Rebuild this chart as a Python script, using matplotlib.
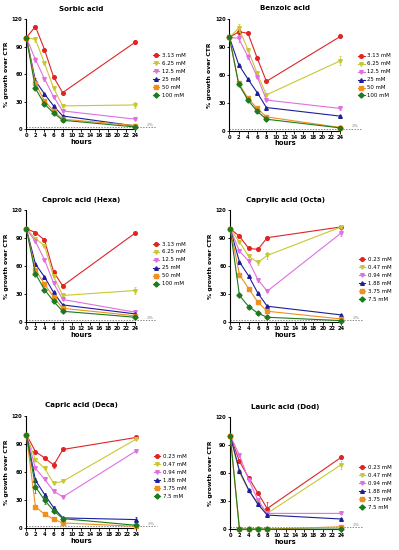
import matplotlib
matplotlib.use("Agg")
import matplotlib.pyplot as plt

hours = [0, 2, 4, 6, 8, 24]

# concentrations
conc_short = ["3.13 mM", "6.25 mM", "12.5 mM", "25 mM", "50 mM", "100 mM"]
conc_long = ["0.23 mM", "0.47 mM", "0.94 mM", "1.88 mM", "3.75 mM", "7.5 mM"]

# % growth over CTR, one list per concentration (low -> high)
sorbic = [
    [100, 112, 87, 57, 40, 95],
    [100, 98, 72, 45, 25.5, 26.5],
    [100, 76, 55, 35.5, 20, 11],
    [100, 53, 38.5, 25.5, 14.5, 3.6],
    [100, 50, 31, 20, 11, 4],
    [100, 44.5, 27.5, 17.8, 9.8, 2.5],
]
benzoic = [
    [100, 106, 104.5, 78, 53, 101],
    [100, 110, 87, 61.5, 38.5, 75],
    [100, 99, 79.5, 58, 33, 24],
    [100, 71, 55.5, 41, 25, 15.8],
    [100, 51, 35, 24, 15, 3.6],
    [100, 50, 33, 21, 12.5, 3.2],
]
caproic = [
    [100, 96, 88, 54, 39, 95.5],
    [100, 89.5, 82, 49, 28.7, 34],
    [100, 86.5, 67, 42, 24.4, 10.8],
    [100, 62.5, 48.5, 32, 18.6, 9],
    [100, 56, 41, 27, 15, 7],
    [100, 52, 35, 22.5, 11.8, 5.4],
]
caprylic = [
    [100, 92, 79, 78, 90.5, 102],
    [100, 86, 70.5, 64, 71.5, 102],
    [100, 76, 65.5, 45.5, 33.3, 95.5],
    [100, 64.5, 49.5, 31, 17.2, 7.9],
    [100, 51, 35.8, 21.5, 11.8, 3.6],
    [100, 28.7, 16.8, 9.7, 5.4, 1.8],
]
capric = [
    [100, 81.7, 75, 67.4, 84, 96.8],
    [100, 72.8, 63.8, 47.7, 50, 95],
    [100, 63.8, 52, 39.4, 33.3, 82.4],
    [100, 51, 35.8, 21.5, 10.8, 9],
    [100, 22.6, 14.7, 9.3, 5.4, 1.8],
    [100, 44, 29.7, 18.3, 10, 2.9],
]
lauric = [
    [100, 72.4, 55, 38.4, 22, 76.7],
    [100, 60.6, 40.9, 28.3, 16.8, 68.8],
    [100, 78.9, 52.7, 31, 16.8, 16.8],
    [100, 62.4, 42, 26.5, 15, 10.8],
    [100, 0, 0, 0, 0, 2.5],
    [100, 0, 0, 0, 0, 0],
]

# standard errors (only visibly large ones, rest small)
sorbic_err = [[0, 2, 1, 1, 1, 2.5], [0, 3, 1, 1, 1, 3], [0, 3, 2, 1, 1, 1],
              [0, 3, 1, 1, 1, 1], [0, 2, 1, 1, 1, 1], [0, 1, 1, 1, 1, 1]]
benzoic_err = [[0, 3, 1, 1, 1, 1], [0, 4, 2, 2, 1, 5], [0, 4, 3, 1, 1, 2],
               [0, 1, 1, 1, 1, 1], [0, 1, 1, 1, 1, 1], [0, 1, 1, 1, 1, 1]]
caproic_err = [[0, 1, 1, 1, 1, 1], [0, 2, 1, 1, 1, 4], [0, 2, 1, 1, 1, 1],
               [0, 1, 1, 1, 1, 1], [0, 1, 1, 1, 1, 1], [0, 1, 1, 1, 1, 1]]
caprylic_err = [[0, 1, 1, 1, 2, 1], [0, 1, 1, 3, 4, 1], [0, 1, 1, 2, 1, 3],
                [0, 1, 1, 1, 1, 1], [0, 1, 1, 1, 1, 1], [0, 1, 1, 1, 1, 1]]
capric_err = [[0, 1, 1, 3, 2, 1], [0, 1, 1, 1, 1, 1], [0, 1, 1, 2, 1, 1],
              [0, 2, 2, 2, 1, 3], [0, 1, 1, 1, 1, 1], [0, 7, 4, 2, 1, 1]]
lauric_err = [[0, 2, 2, 1, 7, 2], [0, 1, 1, 1, 1, 4], [0, 2, 1, 1, 1, 1],
              [0, 1, 1, 1, 1, 1], [0, 0, 0, 0, 0, 1], [0, 0, 0, 0, 0, 0]]

titles = ["Sorbic acid", "Benzoic acid", "Caproic acid (Hexa)",
          "Caprylic acid (Octa)", "Capric acid (Deca)", "Lauric acid (Dod)"]

colors = ["#e02424", "#c8c832", "#e070e0", "#1e1e9c", "#f0901e", "#1e7a1e"]
markers = ["o", "v", "v", "^", "s", "D"]

panels = [
    (sorbic, sorbic_err, conc_short),
    (benzoic, benzoic_err, conc_short),
    (caproic, caproic_err, conc_short),
    (caprylic, caprylic_err, conc_long),
    (capric, capric_err, conc_long),
    (lauric, lauric_err, conc_long),
]

axes_pos = [
    [0.066, 0.765, 0.273, 0.200],
    [0.575, 0.762, 0.278, 0.204],
    [0.066, 0.414, 0.273, 0.204],
    [0.577, 0.414, 0.278, 0.204],
    [0.066, 0.040, 0.275, 0.204],
    [0.577, 0.038, 0.278, 0.204],
]
legend_anchor = [(1.16, 0.69), (1.16, 0.69), (1.16, 0.72), (1.16, 0.58),
                 (1.16, 0.66), (1.16, 0.57)]

fig = plt.figure(figsize=(3.99, 5.5), dpi=100)

for i, (data, err, labels) in enumerate(panels):
    ax = fig.add_axes(axes_pos[i])
    for j in range(6):
        ax.errorbar(hours, data[j], yerr=err[j], color=colors[j], fmt="none",
                    elinewidth=0.5, capsize=0.9, capthick=0.5, clip_on=False,
                    zorder=3 + j * 0.1)
        ax.plot(hours, data[j], color=colors[j], marker=markers[j],
                markersize=2.6, linewidth=0.8, label=labels[j], clip_on=False,
                zorder=3 + j * 0.1)
    ax.plot([0, 28.5], [2, 2], linestyle=(0, (2, 2)), color="#555555",
            linewidth=0.5, clip_on=False, zorder=2)
    ax.text(27.2, 2.6, "2%", fontsize=3.2, color="#888888", ha="center", va="bottom")
    ax.set_xlim(0, 24)
    ax.set_ylim(0, 120)
    ax.set_xticks(range(0, 25, 2))
    ax.set_yticks([0, 30, 60, 90, 120])
    ax.spines["top"].set_visible(False)
    ax.spines["right"].set_visible(False)
    for s in ["left", "bottom"]:
        ax.spines[s].set_linewidth(0.8)
    ax.tick_params(labelsize=3.7, length=1.8, width=0.6, pad=1)
    for lab in ax.get_xticklabels() + ax.get_yticklabels():
        lab.set_fontweight("bold")
    ax.set_xlabel("hours", fontsize=4.9, fontweight="bold", labelpad=0.5)
    ax.set_ylabel("% growth over CTR", fontsize=4.4, fontweight="bold", labelpad=2)
    ax.set_title(titles[i], fontsize=5.1, fontweight="bold", pad=6)
    ax.legend(loc="upper left", bbox_to_anchor=legend_anchor[i], frameon=False,
              fontsize=3.9, labelspacing=0.55, handlelength=1.2, handletextpad=0.5,
              borderpad=0, borderaxespad=0)

fig.savefig("out.png", dpi=100)
